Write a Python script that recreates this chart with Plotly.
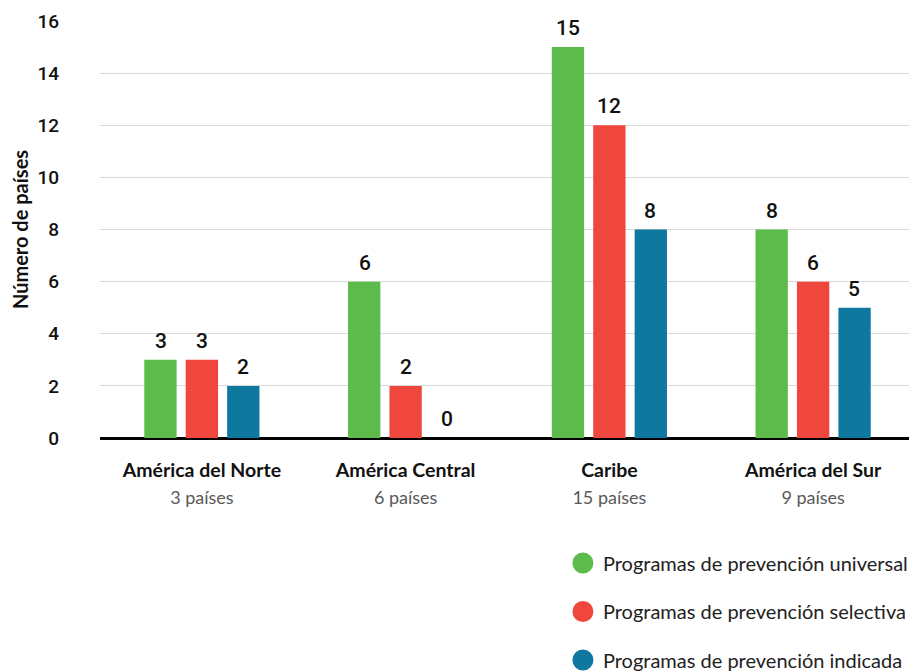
import plotly.graph_objects as go

regions = ["América del Norte", "América Central", "Caribe", "América del Sur"]
n_countries = ["3 países", "6 países", "15 países", "9 países"]
series_names = ["Programas de prevención universal",
                "Programas de prevención selectiva",
                "Programas de prevención indicada"]
universal = [3, 6, 15, 8]
selectiva = [3, 2, 12, 6]
indicada = [2, 0, 8, 5]
colors = ["#5cbb4a", "#ef473d", "#0f789f"]
y_ticks = [0, 2, 4, 6, 8, 10, 12, 14, 16]

series_vals = [universal, selectiva, indicada]
bar_slot_px = 41  # pixel offset between grouped bars, used for label placement

fig = go.Figure()
for name, vals, col in zip(series_names, series_vals, colors):
    fig.add_trace(go.Bar(
        x=regions, y=vals, name=name, marker_color=col, marker_line_width=0,
        showlegend=False,
    ))
for i, (name, col) in enumerate(zip(series_names, colors)):
    fig.add_trace(go.Scatter(
        x=[None], y=[None], mode="markers", name=name,
        marker=dict(color=col, size=26, symbol="circle",
                    line=dict(color=col, width=5)),
        legendgroup=f"g{i}", showlegend=True,
    ))

# value labels above each bar
for i, vals in enumerate(series_vals):
    for r, v in zip(regions, vals):
        fig.add_annotation(
            x=r, y=v, text=str(v), showarrow=False, yanchor="bottom",
            xshift=(i - 1) * bar_slot_px, yshift=5,
            font=dict(family="Roboto", size=21, color="#111111", weight=500),
        )

ticktext = [f"<b><span style='font-size:19.5px'>{r}</span></b><br>"
            f"<span style='color:#595959;font-size:18px'>{n}</span>"
            for r, n in zip(regions, n_countries)]

fig.update_layout(
    width=909, height=664,
    margin=dict(l=92, r=2, t=13, b=234, autoexpand=False),
    paper_bgcolor="white", plot_bgcolor="white",
    barmode="group", bargap=0.39, bargroupgap=0.22,
    font=dict(family="Lato", color="#111111"),
    xaxis=dict(tickmode="array", tickvals=regions, ticktext=ticktext,
               tickfont=dict(family="Lato", size=21, color="#111111"),
               showgrid=False, showline=False, ticks="", ticklabelstandoff=17,
               automargin=False),
    yaxis=dict(range=[0, 16], tickvals=y_ticks, showgrid=True,
               gridcolor="#d9d9d9", gridwidth=1,
               zeroline=True, zerolinecolor="#000000", zerolinewidth=3,
               tickfont=dict(family="Roboto", size=19, color="#111111", weight=500),
               ticklabelstandoff=40, automargin=False,
               title=dict(text="<b>Número de países</b>", standoff=8,
                          font=dict(family="Lato", size=20, color="#111111"))),
    legend=dict(x=0.568, xanchor="left", y=-0.253, yanchor="top",
                font=dict(family="Lato", size=20, color="#222222"),
                tracegroupgap=19.5, itemsizing="trace", bgcolor="rgba(0,0,0,0)"),
)

fig.write_html("out.html")
